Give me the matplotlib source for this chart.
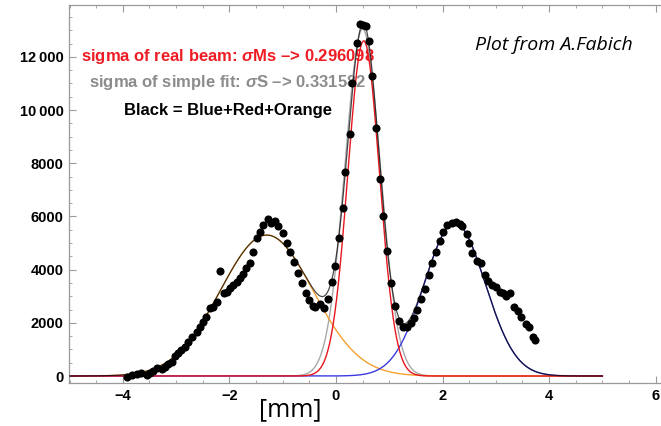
import numpy as np
import matplotlib
matplotlib.use("Agg")
import matplotlib.pyplot as plt
from matplotlib.ticker import MultipleLocator

plt.rcParams['font.family'] = ['Liberation Sans', 'DejaVu Sans']
plt.rcParams['mathtext.fontset'] = 'custom'
plt.rcParams['mathtext.it'] = 'Liberation Sans:italic:bold'
plt.rcParams['mathtext.rm'] = 'Liberation Sans:bold'

# measured beam profile (position in mm, counts)
data_x = [-3.93, -3.83, -3.74, -3.65, -3.55, -3.49, -3.43, -3.36, -3.27, -3.21,
          -3.15, -3.08, -3.02, -2.96, -2.90, -2.83, -2.77, -2.71, -2.61, -2.55,
          -2.49, -2.43, -2.36, -2.30, -2.24, -2.18, -2.11, -2.05, -1.99, -1.93,
          -1.86, -1.80, -1.74, -1.68, -1.61, -1.55, -1.49, -1.43, -1.36, -1.27,
          -1.21, -1.14, -1.08, -0.99, -0.92, -0.86, -0.79, -0.71, -0.64, -0.57,
          -0.50, -0.44, -0.39, -0.30, -0.23, -0.15, -0.08, -0.02, 0.06, 0.13,
          0.17, 0.26, 0.31, 0.40, 0.46, 0.51, 0.56, 0.62, 0.68, 0.76,
          0.83, 0.89, 0.96, 1.04, 1.11, 1.19, 1.25, 1.33, 1.40, 1.46,
          1.53, 1.59, 1.67, 1.74, 1.81, 1.87, 1.95, 2.01, 2.09, 2.17,
          2.25, 2.33, 2.37, 2.45, 2.50, 2.56, 2.64, 2.72, 2.80, 2.86,
          2.93, 3.00, 3.08, 3.14, 3.20, 3.26, 3.35, 3.42, 3.48, 3.56,
          3.62, 3.70, 3.73]
data_y = [-50, 38, 75, 125, 38, 125, 200, 290, 250, 350,
          450, 540, 750, 880, 980, 1100, 1265, 1480, 1670, 1850,
          2040, 2230, 2540, 2600, 2790, 3960, 3110, 3170, 3300, 3420,
          3545, 3700, 3835, 4050, 4260, 4670, 5175, 5430, 5680, 5890,
          5740, 5840, 5640, 5365, 4990, 4670, 4300, 3860, 3480, 3110,
          2840, 2620, 2580, 2720, 2540, 2900, 3545, 4140, 5190, 6300,
          7660, 9090, 11000, 12510, 13235, 13200, 13170, 12610, 11280, 9340,
          7400, 6015, 4700, 3485, 2630, 2080, 1830, 1830, 1980, 2170,
          2480, 2895, 3270, 3800, 4240, 4675, 5090, 5430, 5680, 5765,
          5800, 5715, 5640, 5340, 4990, 4640, 4335, 4235, 3800, 3585,
          3420, 3335, 3170, 3135, 3010, 3110, 2605, 2455, 2205, 1955,
          1830, 1455, 1355]

# fitted Gaussian components: orange, red (real beam), blue, gray (simple fit)
fit_names = ['orange', 'red', 'blue', 'gray']
fit_amplitudes = [5300, 12600, 5750, 13050]
fit_centers = [-1.30, 0.52, 2.23, 0.50]
fit_sigmas = [0.87, 0.296098, 0.57, 0.331582]
fit_range = [-5.0, 5.0]

y_ticks = [0, 2000, 4000, 6000, 8000, 10000, 12000]
y_tick_labels = ['0', '2000', '4000', '6000', '8000', '10\u2009000', '12\u2009000']
x_ticks = [-4, -2, 0, 2, 4, 6]
x_tick_labels = ['\u22124', '\u22122', '0', '2', '4', '6']

fig = plt.figure(figsize=(6.61, 4.26), dpi=100)
ax = fig.add_axes([69/661, 43/426, 1 - 69/661, (383 - 5)/426])

xx = np.linspace(fit_range[0], fit_range[1], 1500)
curves = {}
for n, a, m, s in zip(fit_names, fit_amplitudes, fit_centers, fit_sigmas):
    curves[n] = a * np.exp(-(xx - m) ** 2 / (2 * s ** 2))
colors = {'orange': '#f5a030', 'red': '#e8161e', 'blue': '#3a3ae0', 'gray': '#a8a8a8'}
for n in ['gray', 'orange', 'blue', 'red']:
    ax.plot(xx, curves[n], color=colors[n], lw=1.0, zorder=2)
black = curves['orange'] + curves['red'] + curves['blue']
ax.plot(xx, black, color='black', lw=0.9, alpha=0.7, zorder=3)

ax.scatter(data_x, data_y, s=34, color='black', zorder=4, linewidths=0)

ax.set_xlim(-5.01, 6.1)
ax.set_ylim(-263, 13950)

ax.set_xticks(x_ticks)
ax.set_xticklabels(x_tick_labels, fontweight='bold', fontsize=10.5)
ax.set_yticks(y_ticks)
ax.set_yticklabels(y_tick_labels, fontweight='bold', fontsize=10.5)
ax.xaxis.set_minor_locator(MultipleLocator(0.5))
ax.yaxis.set_minor_locator(MultipleLocator(500))
ax.tick_params(which='both', direction='in', color='#999999', top=True, right=False)
ax.tick_params(which='major', length=5, width=0.8, pad=4)
ax.tick_params(which='minor', length=2.5, width=0.6)
for sp in ['left', 'bottom', 'top']:
    ax.spines[sp].set_color('#999999')
    ax.spines[sp].set_linewidth(0.9)
ax.spines['right'].set_visible(False)

ax.text(-2.03, 12000, 'sigma of real beam: $\\sigma$Ms \u2013> 0.296098', color='#ee1c24',
        fontsize=12, fontweight='bold', ha='center', va='center', zorder=1)
ax.text(-2.03, 11020, 'sigma of simple fit: $\\sigma$S \u2013> 0.331582', color='#8c8c8c',
        fontsize=12, fontweight='bold', ha='center', va='center', zorder=1)
ax.text(-2.03, 10000, 'Black = Blue+Red+Orange', color='black',
        fontsize=12, fontweight='bold', ha='center', va='center', zorder=1)

fig.text(554/661, 1 - 45/426, 'Plot from A.Fabich', fontsize=14, style='italic',
         family=['Open Sans', 'DejaVu Sans'], ha='center', va='center')
fig.text(290/661, 1 - 410/426, '[mm]', fontsize=18,
         family=['Open Sans', 'DejaVu Sans'], ha='center', va='center')

fig.savefig('out.png', dpi=100)
